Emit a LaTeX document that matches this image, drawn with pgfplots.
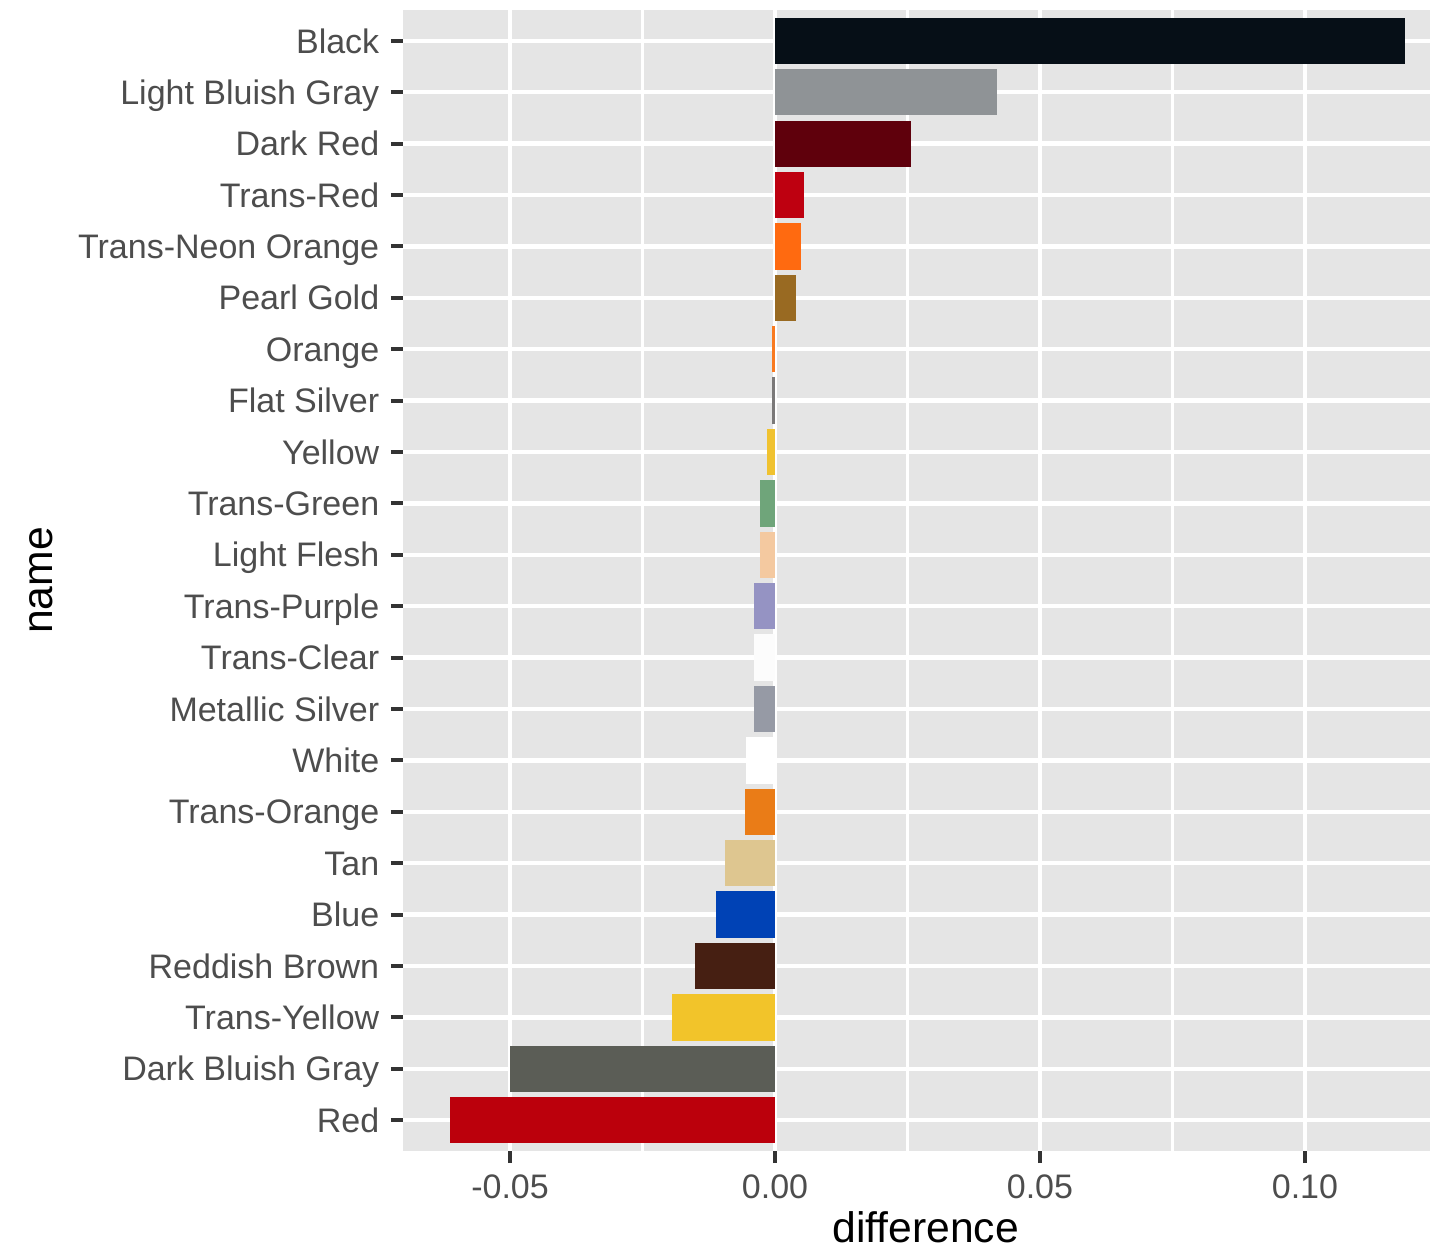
\documentclass[border=0pt]{standalone}
\usepackage{fontspec}
\setmainfont{Liberation Sans}
\usepackage{pgfplots}
\pgfplotsset{compat=1.18}

\definecolor{panelbg}{HTML}{E5E5E5}
\definecolor{tickgray}{HTML}{4D4D4D}
\definecolor{tickmark}{HTML}{333333}

\definecolor{cBlack}{HTML}{060F17}
\definecolor{cLBGray}{HTML}{8F9396}
\definecolor{cDarkRed}{HTML}{5F000C}
\definecolor{cTransRed}{HTML}{BE0010}
\definecolor{cTNOrange}{HTML}{FF6A10}
\definecolor{cPearlGold}{HTML}{996A22}
\definecolor{cOrange}{HTML}{F97A20}
\definecolor{cFlatSilver}{HTML}{7B7979}
\definecolor{cYellow}{HTML}{F0C230}
\definecolor{cTransGreen}{HTML}{6FA57A}
\definecolor{cLightFlesh}{HTML}{F4C9A0}
\definecolor{cTransPurple}{HTML}{9593C3}
\definecolor{cTransClear}{HTML}{FCFCFC}
\definecolor{cMetSilver}{HTML}{969AA5}
\definecolor{cWhite}{HTML}{FFFFFF}
\definecolor{cTransOrange}{HTML}{EA7C17}
\definecolor{cTan}{HTML}{DEC690}
\definecolor{cBlue}{HTML}{0042B5}
\definecolor{cRedBrown}{HTML}{461F12}
\definecolor{cTransYellow}{HTML}{F2C42A}
\definecolor{cDBGray}{HTML}{5B5D56}
\definecolor{cRed}{HTML}{BB000C}

\begin{document}
\begin{tikzpicture}
\useasboundingbox (0,0) rectangle (429pt,375.9pt);
\begin{axis}[
    at={(120.9pt,30.6pt)}, anchor=south west,
    scale only axis,
    width=308.1pt, height=342.3pt,
    xbar,
    bar width=0.9,
    every axis plot/.append style={bar shift=0pt, draw=none},
    xmin=-0.0702, xmax=0.1236,
    ymin=-0.6, ymax=21.6,
    axis background/.style={fill=panelbg},
    axis line style={draw=none},
    xtick={-0.05,0,0.05,0.1},
    xticklabels={-0.05,0.00,0.05,0.10},
    minor xtick={-0.025,0.025,0.075},
    ytick={0,...,21},
    yticklabels={Red, Dark Bluish Gray, Trans-Yellow, Reddish Brown, Blue, Tan,
        Trans-Orange, White, Metallic Silver, Trans-Clear, Trans-Purple,
        Light Flesh, Trans-Green, Yellow, Flat Silver, Orange, Pearl Gold,
        Trans-Neon Orange, Trans-Red, Dark Red, Light Bluish Gray, Black},
    xmajorgrids, xminorgrids, ymajorgrids,
    major grid style={white, line width=1.35pt},
    minor grid style={white, line width=0.68pt},
    tick pos=left,
    tick align=outside,
    major tick length=3.6pt,
    minor tick length=0pt,
    tick style={color=tickmark, line width=1.2pt},
    ticklabel style={font=\fontsize{10.2}{12}\selectfont, text=tickgray},
    yticklabel style={text height=7.3pt, text depth=0pt},
    xlabel={difference},
    ylabel={name},
    label style={font=\fontsize{12.8}{15}\selectfont, text=black},
    xlabel style={at={(axis description cs:0.509,-0.0806)}, anchor=base},
    ylabel style={at={(axis description cs:-0.3408,0.5)}, anchor=base},
]
\addplot[fill=cRed]         coordinates {(-0.0613,0)};
\addplot[fill=cDBGray]      coordinates {(-0.0501,1)};
\addplot[fill=cTransYellow] coordinates {(-0.0194,2)};
\addplot[fill=cRedBrown]    coordinates {(-0.0151,3)};
\addplot[fill=cBlue]        coordinates {(-0.0111,4)};
\addplot[fill=cTan]         coordinates {(-0.0094,5)};
\addplot[fill=cTransOrange] coordinates {(-0.0056,6)};
\addplot[fill=cWhite]       coordinates {(-0.0055,7)};
\addplot[fill=cMetSilver]   coordinates {(-0.0039,8)};
\addplot[fill=cTransClear]  coordinates {(-0.0039,9)};
\addplot[fill=cTransPurple] coordinates {(-0.0039,10)};
\addplot[fill=cLightFlesh]  coordinates {(-0.0028,11)};
\addplot[fill=cTransGreen]  coordinates {(-0.0028,12)};
\addplot[fill=cYellow]      coordinates {(-0.0016,13)};
\addplot[fill=cFlatSilver]  coordinates {(-0.0006,14)};
\addplot[fill=cOrange]      coordinates {(-0.0006,15)};
\addplot[fill=cPearlGold]   coordinates {(0.0040,16)};
\addplot[fill=cTNOrange]    coordinates {(0.0049,17)};
\addplot[fill=cTransRed]    coordinates {(0.0055,18)};
\addplot[fill=cDarkRed]     coordinates {(0.0257,19)};
\addplot[fill=cLBGray]      coordinates {(0.0419,20)};
\addplot[fill=cBlack]       coordinates {(0.1189,21)};
\end{axis}
\end{tikzpicture}
\end{document}
